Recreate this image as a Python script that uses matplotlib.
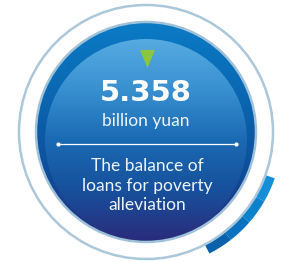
import numpy as np
import matplotlib
matplotlib.use("Agg")
import matplotlib.pyplot as plt
from matplotlib.patches import Circle, Wedge, Polygon
from matplotlib.colors import LinearSegmentedColormap

# figure content
VALUE = "5.358"
UNIT = "billion yuan"
CAPTION_LINES = ["The balance of", "loans for poverty", "alleviation"]

W, H = 282, 261
CX, CY = 146, 132          # centre of the badge (pixel coords, y down)
R_OUTER = 127
R_DISK = 110

fig = plt.figure(figsize=(W / 100, H / 100), dpi=100)
ax = fig.add_axes([0, 0, 1, 1])
ax.set_xlim(0, W)
ax.set_ylim(H, 0)
ax.axis("off")

# blue crescent peeking out at the lower right (lighter at top, darker below)
arc_cols = ["#1590d8", "#0c82cd", "#0a72bf", "#0a62ad"]
steps = np.linspace(19, 63, len(arc_cols) + 1)
for a0, a1, c in zip(steps[:-1], steps[1:], arc_cols):
    ax.add_patch(Wedge((CX + 3, CY + 3), R_OUTER + 6, a0, a1, width=12,
                       facecolor=c, edgecolor="none", zorder=1))

# white outer disc with thin ring
ax.add_patch(Circle((CX, CY), R_OUTER, facecolor="white", edgecolor="#aac8da",
                    linewidth=1.8, zorder=2))


def grad_disk(cx, cy, r, colors, z):
    cmap = LinearSegmentedColormap.from_list("g", colors)
    g = np.linspace(0, 1, 256)[:, None] * np.ones((1, 4))
    im = ax.imshow(g, cmap=cmap, extent=(cx - r, cx + r, cy + r, cy - r),
                   origin="upper", aspect="auto", zorder=z, interpolation="bilinear")
    im.set_clip_path(Circle((cx, cy), r, transform=ax.transData))
    return im


grad_disk(CX, CY, R_DISK, ["#0a7bc6", "#0b67b1", "#0d4f9c", "#2b2c7c"], 3)
grad_disk(CX, CY + 8, 101, ["#56abe0", "#3890d0", "#1a6ab3", "#17509c", "#2a2c7b"], 4)

ax.add_patch(Circle((CX, CY), R_DISK, facecolor="none", edgecolor="#9fc2d8",
                    linewidth=1.8, zorder=5))
ax.set_xlim(0, W)
ax.set_ylim(H, 0)

# green marker
ax.add_patch(Polygon([[140, 50], [155, 50], [147.5, 68]], closed=True,
                     facecolor="#8cc63f", edgecolor="none", zorder=6))

ax.text(146, 93, VALUE, ha="center", va="center", color="white", fontsize=21,
        fontweight="semibold", family="DejaVu Sans", zorder=7)
ax.text(146, 121, UNIT, ha="center", va="center", color="#eef5fb", fontsize=12.5,
        family="Lato", fontweight="normal", zorder=7)

ax.plot([58, 236], [144, 144], color="white", linewidth=0.9, zorder=7)
ax.plot([58, 236], [144, 144], "o", color="white", markersize=2, zorder=7)

for i, line in enumerate(CAPTION_LINES):
    ax.text(147, 166 + i * 19.5, line, ha="center", va="center", color="#eef5fb",
            fontsize=12.5, family="Lato", fontweight="normal", zorder=7)

fig.savefig("out.png", dpi=100, facecolor="white")
